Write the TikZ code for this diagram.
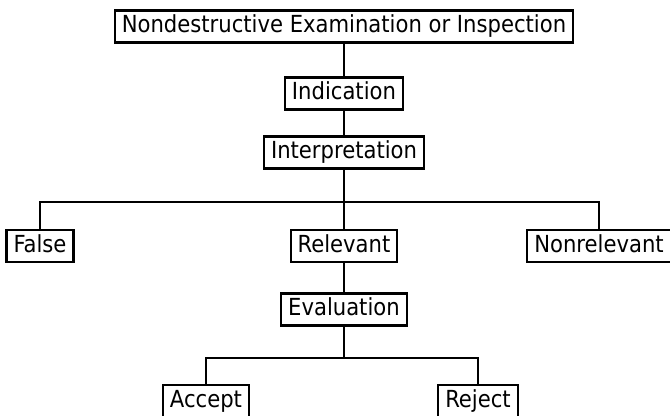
\documentclass[tikz,border=0pt]{standalone}
\usepackage{fontspec}
\setmainfont{DejaVu Sans Condensed}
\usetikzlibrary{positioning}

\begin{document}
\begin{tikzpicture}[%
    x=0.5pt,
    y=-0.5pt,
    on grid,
    line width=1.1pt,
    box/.style={draw, font=\fontsize{11.75pt}{14pt}\selectfont,
      text height=9pt, text depth=2.5pt, inner xsep=3.5pt, inner ysep=2.25pt}
  ]
    \useasboundingbox (0,0) rectangle (670,416);

    \node[box] (NDE) at (344,26.5) {Nondestructive Examination or Inspection};
    \node[box] (Ind) [below=33.5pt of NDE] {Indication};
    \node[box] (Int) [below=29.5pt of Ind] {Interpretation};
    \coordinate[below=24.75pt of Int] (S1);
    \node[box] (Rel) [below=46.75pt of Int] {Relevant};
    \node[box] (Fal) [below left=46.75pt and 152pt of Int] {False};
    \node[box] (Non) [below right=46.75pt and 127.5pt of Int] {Nonrelevant};
    \node[box] (Eva) [below=31.75pt of Rel] {Evaluation};
    \coordinate[below=24.25pt of Eva] (S2);
    \node[box] (Acc) [below left=45.75pt and 69pt of Eva] {Accept};
    \node[box] (Rej) [below right=45.75pt and 67pt of Eva] {Reject};

    \draw (NDE) -- (Ind);
    \draw (Ind) -- (Int);
    \draw (Int) -- (Rel);
    \draw (S1) -| (Fal);
    \draw (S1) -| (Non);
    \draw (Rel) -- (Eva);
    \draw (Eva) -- (S2);
    \draw (S2) -| (Acc);
    \draw (S2) -| (Rej);
  \end{tikzpicture}
\end{document}
